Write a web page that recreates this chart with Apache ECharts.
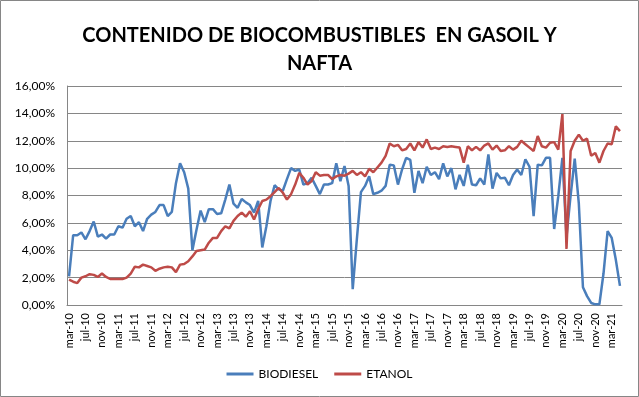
<!DOCTYPE html>
<html>
<head>
<meta charset="utf-8">
<script src="https://cdn.jsdelivr.net/npm/echarts@6/dist/echarts.min.js"></script>
<style>
  html, body { margin: 0; padding: 0; background: #fff; }
  #chart { width: 639px; height: 397px; }
</style>
</head>
<body>
<div id="chart"></div>
<script>
// meses abreviados para las categorias (mar-10 ... may-21)
const monthNames = ['ene', 'feb', 'mar', 'abr', 'may', 'jun', 'jul', 'ago', 'sep', 'oct', 'nov', 'dic'];
const firstYear = 10, firstMonth = 2, monthCount = 135;

// valores en %
const biodiesel = [
  2.1, 5.1, 5.1, 5.3, 4.8, 5.4, 6.1, 5.0, 5.15, 4.85, 5.15, 5.15,
  5.75, 5.65, 6.3, 6.5, 5.75, 6.05, 5.4, 6.3, 6.6, 6.8, 7.3, 7.3,
  6.5, 6.8, 8.9, 10.35, 9.7, 8.5, 4.0, 5.5, 6.9, 6.05, 7.0, 7.0,
  6.65, 6.7, 7.7, 8.8, 7.4, 7.1, 7.75, 7.5, 7.3, 6.75, 7.6, 4.2,
  5.75, 7.6, 8.75, 8.45, 8.35, 9.2, 10.0, 9.8, 9.9, 8.8, 8.9, 9.3,
  8.7, 8.1, 8.8, 8.8, 8.9, 10.35, 9.05, 10.15, 8.7, 1.15, 4.8, 8.25,
  8.7, 9.4, 8.1, 8.2, 8.35, 8.7, 10.25, 10.2, 8.8, 9.9, 10.75, 10.6,
  8.2, 9.8, 8.9, 10.1, 9.5, 9.7, 9.2, 10.35, 9.4, 10.0, 8.45, 9.5,
  8.7, 10.25, 8.8, 8.75, 9.25, 8.8, 11.0, 8.5, 9.65, 9.25, 9.3, 8.75,
  9.5, 9.9, 9.5, 10.65, 10.1, 6.5, 10.25, 10.2, 10.75, 10.75, 5.55, 7.95,
  10.75, 5.0, 8.0, 10.7, 7.4, 1.3, 0.65, 0.15, 0.05, 0.05, 2.3, 5.4,
  4.9, 3.3, 1.4
];
const etanol = [
  1.85, 1.7, 1.6, 2.0, 2.1, 2.25, 2.2, 2.05, 2.3, 2.05, 1.9, 1.9,
  1.9, 1.9, 2.0, 2.3, 2.8, 2.75, 2.95, 2.85, 2.75, 2.5, 2.65, 2.75,
  2.8, 2.75, 2.4, 2.95, 3.0, 3.2, 3.55, 3.95, 4.0, 4.05, 4.55, 4.9,
  4.9, 5.4, 5.75, 5.6, 6.15, 6.5, 6.75, 6.45, 6.85, 6.25, 7.0, 7.6,
  7.7, 7.95, 8.25, 8.55, 8.2, 7.7, 8.1, 8.8, 9.65, 9.3, 8.8, 9.05,
  9.7, 9.45, 9.5, 9.5, 9.2, 9.4, 9.5, 9.45, 9.6, 9.8, 9.5, 9.7,
  9.4, 9.95, 9.7, 10.05, 10.4, 10.9, 11.8, 11.6, 11.7, 11.3, 11.4, 11.8,
  11.3, 11.9, 11.5, 12.1, 11.4, 11.5, 11.4, 11.6, 11.55, 11.6, 11.55, 11.5,
  10.4, 11.6, 11.3, 11.55, 11.3, 11.65, 11.8, 11.35, 11.65, 11.25, 11.3, 11.6,
  11.35, 11.55, 12.0, 11.75, 11.5, 11.25, 12.35, 11.6, 11.5, 11.85, 11.9, 11.35,
  13.95, 4.1, 11.25, 12.0, 12.45, 12.0, 12.15, 10.9, 11.1, 10.4, 11.25, 11.8,
  11.75, 13.05, 12.7
];

const months = [];
for (let i = 0; i < monthCount; i++) {
  const m = firstMonth + i;
  months.push(monthNames[m % 12] + '-' + (firstYear + Math.floor(m / 12)));
}

const chart = echarts.init(document.getElementById('chart'));
const fmt = v => v.toFixed(2).replace('.', ',') + '%';

chart.setOption({
  animation: false,
  backgroundColor: '#fff',
  graphic: [{
    type: 'rect',
    shape: { x: 0.5, y: 0.5, width: 638, height: 396 },
    style: { fill: 'none', stroke: '#868686', lineWidth: 1 }
  }],
  title: {
    text: 'CONTENIDO DE BIOCOMBUSTIBLES  EN GASOIL Y\nNAFTA',
    left: 'center',
    top: 17,
    textStyle: {
      fontFamily: 'Lato',
      fontWeight: 'bold',
      fontSize: 20,
      lineHeight: 28,
      color: '#000'
    }
  },
  grid: { left: 67, right: 17, top: 86, bottom: 92 },
  legend: {
    bottom: 12,
    left: 'center',
    itemWidth: 27,
    itemGap: 16,
    icon: 'rect',
    itemHeight: 3,
    textStyle: { fontFamily: 'Lato', fontSize: 12, color: '#000' },
    data: ['BIODIESEL', 'ETANOL']
  },
  xAxis: {
    type: 'category',
    data: months,
    boundaryGap: true,
    axisLine: { lineStyle: { color: '#868686' } },
    axisTick: { show: false },
    axisLabel: {
      interval: 3,
      rotate: 90,
      fontFamily: 'Lato',
      fontSize: 11,
      color: '#000',
      margin: 8
    }
  },
  yAxis: {
    type: 'value',
    min: 0,
    max: 16,
    interval: 2,
    axisLine: { show: true, lineStyle: { color: '#868686' } },
    axisTick: { show: false },
    splitLine: { lineStyle: { color: '#868686', width: 1 } },
    axisLabel: {
      formatter: fmt,
      fontFamily: 'Lato',
      fontSize: 12,
      color: '#000',
      margin: 12
    }
  },
  series: [
    {
      name: 'BIODIESEL',
      type: 'line',
      data: biodiesel,
      symbol: 'none',
      lineStyle: { color: '#4a7ebb', width: 2.5 },
      itemStyle: { color: '#4a7ebb' }
    },
    {
      name: 'ETANOL',
      type: 'line',
      data: etanol,
      symbol: 'none',
      lineStyle: { color: '#be4b48', width: 2.5 },
      itemStyle: { color: '#be4b48' }
    }
  ]
});
</script>
</body>
</html>
